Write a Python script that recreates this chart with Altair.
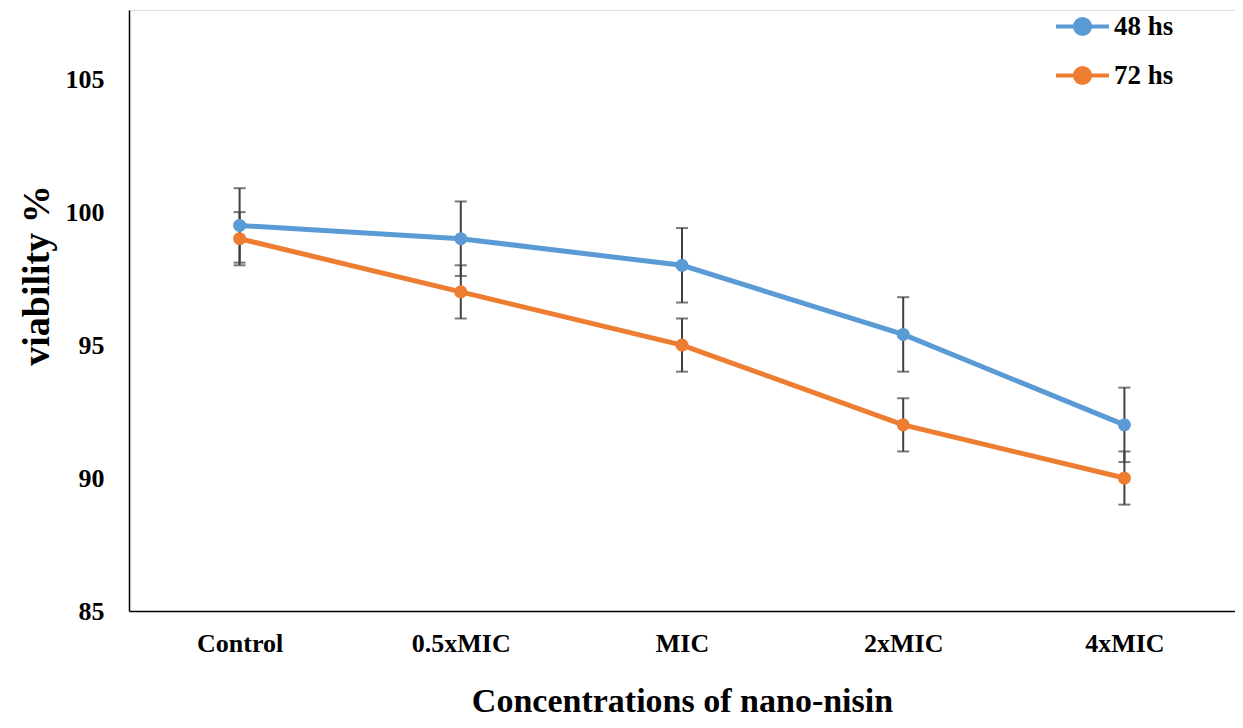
import altair as alt
import pandas as pd

categories = ["Control", "0.5xMIC", "MIC", "2xMIC", "4xMIC"]
series = ["48 hs", "72 hs"]
v48 = [99.5, 99.0, 98.0, 95.4, 92.0]
e48 = [1.4, 1.4, 1.4, 1.4, 1.4]
v72 = [99.0, 97.0, 95.0, 92.0, 90.0]
e72 = [1.0, 1.0, 1.0, 1.0, 1.0]
y_ticks = [85, 90, 95, 100, 105]

rows = []
for s, vals, errs in [(series[0], v48, e48), (series[1], v72, e72)]:
    for c, v, e in zip(categories, vals, errs):
        rows.append({"cat": c, "series": s, "value": v, "lo": v - e, "hi": v + e})
df = pd.DataFrame(rows)

FONT = "Liberation Serif"
xenc = alt.X("cat:N", sort=categories, scale=alt.Scale(type="point", padding=0.5),
             axis=alt.Axis(title="Concentrations of nano-nisin", labelAngle=0,
                           labelFont=FONT, labelFontSize=26, labelFontWeight="bold",
                           labelColor="black", labelPadding=19, ticks=False,
                           titleFont=FONT, titleFontSize=34, titleFontWeight="bold",
                           titleColor="black", titlePadding=28,
                           domainColor="black", domainWidth=1.5, grid=False))
yscale = alt.Scale(domain=[85, 107.6], nice=False, zero=False)
yenc = alt.Y("value:Q", scale=yscale,
             axis=alt.Axis(title="viability %", values=y_ticks,
                           labelFont=FONT, labelFontSize=26, labelFontWeight="bold",
                           labelColor="black", labelPadding=25, ticks=False,
                           titleFont=FONT, titleFontSize=38, titleFontWeight="bold",
                           titleColor="black", titlePadding=9, titleY=265,
                           domainColor="black", domainWidth=1.5, grid=False))
color = alt.Color("series:N", scale=alt.Scale(domain=series, range=["#5B9BD5", "#ED7D31"]),
                  legend=alt.Legend(title=None, orient="none", legendX=938, legendY=1,
                                    labelFont=FONT, labelFontSize=27, labelFontWeight="bold",
                                    labelColor="black", rowPadding=16, labelOffset=16,
                                    symbolType="M-2,0H2M-0.57,0A0.57,0.57,0,1,1,0.57,0A0.57,0.57,0,1,1,-0.57,0",
                                    symbolSize=702, symbolStrokeWidth=4))

base = alt.Chart(df)
err = base.mark_rule(color="#404040", strokeWidth=2).encode(
    x=xenc, y=alt.Y("lo:Q", scale=yscale), y2="hi:Q")
cap_lo = base.mark_tick(color="#404040", thickness=2, size=12).encode(
    x=xenc, y=alt.Y("lo:Q", scale=yscale))
cap_hi = base.mark_tick(color="#404040", thickness=2, size=12).encode(
    x=xenc, y=alt.Y("hi:Q", scale=yscale))
line = base.mark_line(strokeWidth=5).encode(x=xenc, y=yenc, color=color)
pts = base.mark_point(filled=True, size=170, opacity=1).encode(x=xenc, y=yenc, color=color)

chart = alt.layer(err, cap_lo, cap_hi, line, pts).properties(
    width=1227, height=712,
    autosize=alt.AutoSizeParams(type="fit", contains="padding"),
    padding={"left": 10, "top": 2, "right": 0, "bottom": 2},
).configure_view(stroke=None).configure(background="white")

chart.save("out.html", embed_options={"renderer": "svg", "actions": False})
